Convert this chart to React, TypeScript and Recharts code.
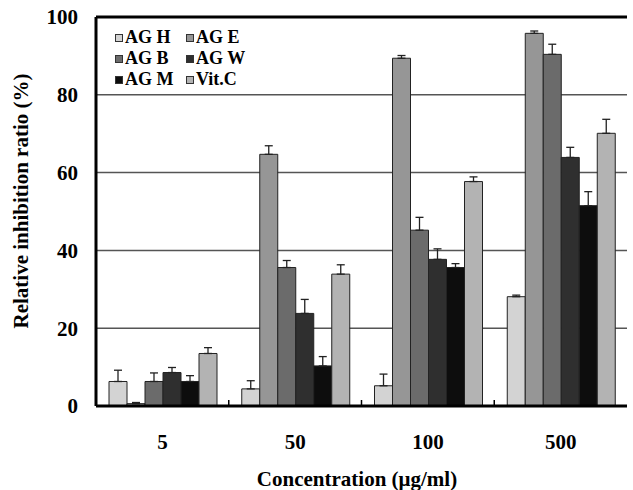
import React from 'react';
import {
  BarChart,
  Bar,
  XAxis,
  YAxis,
  CartesianGrid,
  Legend,
  ErrorBar,
  ReferenceLine,
} from 'recharts';

const concentrations = ['5', '50', '100', '500'];

const agH = [6.3, 4.4, 5.2, 28.1];
const agHErr = [2.9, 2.1, 3.0, 0.4];
const agE = [0.6, 64.7, 89.4, 95.8];
const agEErr = [0.3, 2.2, 0.7, 0.6];
const agB = [6.3, 35.6, 45.2, 90.4];
const agBErr = [2.2, 1.8, 3.3, 2.6];
const agW = [8.6, 23.8, 37.7, 63.9];
const agWErr = [1.3, 3.6, 2.7, 2.6];
const agM = [6.3, 10.3, 35.6, 51.5];
const agMErr = [1.5, 2.4, 1.0, 3.6];
const vitC = [13.5, 33.9, 57.7, 70.1];
const vitCErr = [1.5, 2.4, 1.2, 3.6];

const yTicks = [0, 20, 40, 60, 80, 100];

const series = [
  { key: 'agH', name: 'AG H', color: '#d3d3d3', values: agH, errors: agHErr },
  { key: 'agE', name: 'AG E', color: '#969696', values: agE, errors: agEErr },
  { key: 'agB', name: 'AG B', color: '#6b6b6b', values: agB, errors: agBErr },
  { key: 'agW', name: 'AG W', color: '#2f2f2f', values: agW, errors: agWErr },
  { key: 'agM', name: 'AG M', color: '#0d0d0d', values: agM, errors: agMErr },
  { key: 'vitC', name: 'Vit.C', color: '#b3b3b3', values: vitC, errors: vitCErr },
];

// one row per concentration, errors only go upwards
const data = concentrations.map((c, i) => {
  const row: any = { conc: c };
  series.forEach((s) => {
    row[s.key] = s.values[i];
    row[s.key + 'Err'] = [0, s.errors[i]];
  });
  return row;
});

const FONT = '"Liberation Serif", "Times New Roman", serif';
const TICK_MARGIN = 28;
const CHART_W = 633;
const CHART_H = 490;
const X_AXIS_H = 60;
const MARGIN = { top: 17, right: 6, bottom: 24, left: 16 };
const Y_AXIS_W = 80;
// half a category band, used for the tick marks between groups
const HALF_BAND = (CHART_W - MARGIN.left - MARGIN.right - Y_AXIS_W) / concentrations.length / 2;
const AXIS_Y = CHART_H - MARGIN.bottom - X_AXIS_H;

const CategoryTick = ({ x, y, payload }: any) => (
  <g>
    <path d={`M${x - HALF_BAND},${AXIS_Y}V${AXIS_Y - 6}`} stroke="#000" strokeWidth={1.5} />
    <text
      x={x}
      y={y}
      dy="0.71em"
      textAnchor="middle"
      fontFamily={FONT}
      fontWeight="bold"
      fontSize={21}
      fill="#000"
    >
      {payload.value}
    </text>
  </g>
);

const LegendBox = () => (
  <div
    style={{
      display: 'grid',
      gridTemplateColumns: '71px 80px',
      fontFamily: FONT,
      fontWeight: 'bold',
      fontSize: 18,
      lineHeight: '21px',
      color: '#000',
    }}
  >
    {series.map((s) => (
      <div key={s.key} style={{ display: 'flex', alignItems: 'center', whiteSpace: 'nowrap' }}>
        <span
          style={{
            display: 'inline-block',
            width: 6,
            height: 6,
            border: '1px solid #333',
            background: s.color,
            marginRight: 2,
          }}
        />
        {s.name}
      </div>
    ))}
  </div>
);

export default function App() {
  return (
    <div style={{ position: 'absolute', left: 0, top: 0 }}>
      <BarChart
        width={CHART_W}
        height={CHART_H}
        data={data}
        margin={MARGIN}
        barCategoryGap={13}
        barGap={0}
      >
        <CartesianGrid horizontal vertical={false} stroke="#555" strokeWidth={1.5} />
        <XAxis
          dataKey="conc"
          height={X_AXIS_H}
          axisLine={{ stroke: '#000', strokeWidth: 3 }}
          tickLine={false}
          tickSize={0}
          tickMargin={TICK_MARGIN}
          tick={(props: any) => <CategoryTick {...props} />}
          label={{
            content: () => (
              <text x={357} y={486} textAnchor="middle" fontFamily={FONT} fontWeight="bold" fontSize={21} fill="#000">
                Concentration (μg/ml)
              </text>
            ),
          }}
        />
        <YAxis
          width={Y_AXIS_W}
          domain={[0, 100]}
          ticks={yTicks}
          axisLine={{ stroke: '#000', strokeWidth: 3 }}
          tickLine={false}
          tickSize={0}
          tickMargin={18}
          tick={{ fontFamily: FONT, fontWeight: 'bold', fontSize: 21, fill: '#000' }}
          label={{
            content: () => (
              <text
                x={28}
                y={201}
                transform="rotate(-90, 28, 201)"
                textAnchor="middle"
                fontFamily={FONT}
                fontWeight="bold"
                fontSize={21}
                fill="#000"
              >
                Relative inhibition ratio (%)
              </text>
            ),
          }}
        />
        <YAxis
          yAxisId="frame"
          orientation="right"
          width={0}
          domain={[0, 100]}
          tick={false}
          tickLine={false}
          axisLine={{ stroke: '#000', strokeWidth: 3 }}
        />
        <ReferenceLine y={100} stroke="#000" strokeWidth={3} />
        <Legend
          layout="vertical"
          align="center"
          verticalAlign="middle"
          content={<LegendBox />}
          wrapperStyle={{ left: 115, top: 27, width: 'auto' }}
        />
        {series.map((s) => (
          <Bar
            key={s.key}
            dataKey={s.key}
            name={s.name}
            fill={s.color}
            stroke="#222"
            strokeWidth={1}
            isAnimationActive={false}
          >
            <ErrorBar dataKey={s.key + 'Err'} width={4} stroke="#222" strokeWidth={1.3} direction="y" />
          </Bar>
        ))}
      </BarChart>
    </div>
  );
}
